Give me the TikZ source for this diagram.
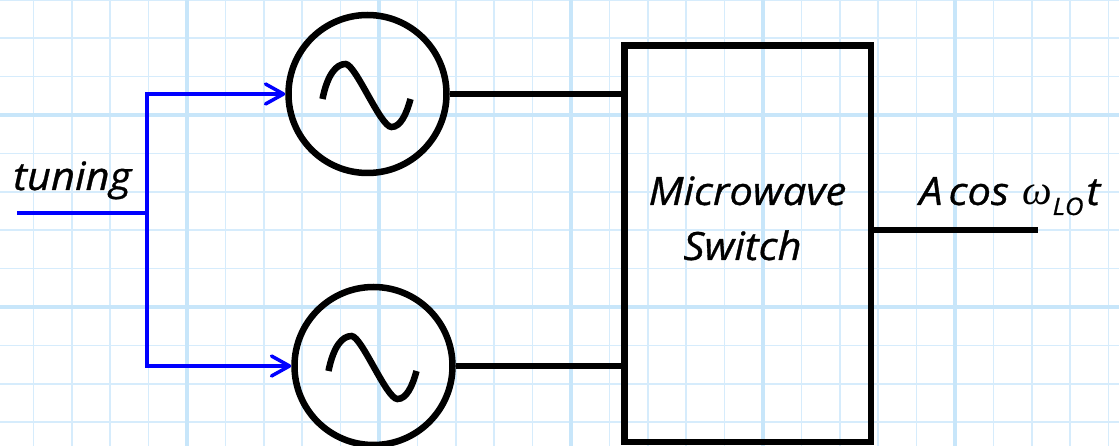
\documentclass[tikz,border=0pt]{standalone}
\usepackage{fontspec}
\setmainfont[FakeStretch=1.07,FakeBold=0.8]{Open Sans}
\newfontfamily\greekfont{Liberation Serif}
\usetikzlibrary{arrows.meta,calc}
\definecolor{gridthin}{RGB}{214,236,252}
\definecolor{gridthick}{RGB}{200,230,250}
\definecolor{ctrlblue}{RGB}{0,0,255}
\begin{document}
\begin{tikzpicture}[x=1pt,y=-1pt,
  gthin/.style={line width=1.6pt, gridthin},
  gthick/.style={line width=3.6pt, gridthick},
  wire/.style={line width=6.5pt, black},
  ctrl/.style={line width=3.5pt, ctrlblue},
  osc/.style={circle, draw, line width=6.5pt, minimum size=158pt, inner sep=0pt},
  switchbox/.style={rectangle, draw, line width=6.5pt, minimum width=246.5pt, minimum height=396.5pt, inner sep=0pt},
  lbl/.style={font=\fontsize{39}{55}\selectfont\itshape, inner sep=0pt},
  sine/.style={line width=6.5pt},
  tip/.style={-{Straight Barb[length=18pt,width=20pt,round]}}
]
\fill[white] (0,0) rectangle (1119,446);
\useasboundingbox (0,0) rectangle (1119,446);
% grid
\foreach \k in {0,...,28} \draw[gthin] ({33.4+38.4*\k},0) -- ++(0,446);
\foreach \k in {0,...,11} \draw[gthin] (0,{-0.2+38.4*\k}) -- ++(1119,0);
\foreach \k in {0,...,5} \draw[gthick] ({-5+192*\k},0) -- ++(0,446);
\foreach \k in {0,1} \draw[gthick] (0,{115+192*\k}) -- ++(1119,0);
% oscillators
\node[osc] (osc1) at (367.5,94) {};
\node[osc] (osc2) at (373.5,366) {};
\foreach \o in {osc1,osc2}{
  \begin{scope}[shift={(\o.center)}]
    \draw[sine] (-45,5) .. controls (-40,-20) and (-31,-30) .. (-22,-30)
       .. controls (-12,-30) and (13,33) .. (24,33)
       .. controls (33,33) and (39,20) .. (43,5);
  \end{scope}
}
% switch
\node[switchbox] (sw) at (747.75,243.75) {};
\node[lbl, anchor=base] (swl1) at (747.5,205) {Microwave};
\node[lbl, anchor=base] (swl2) at (742.5,260) {Switch};
% wires
\draw[wire] (osc1.east) -- (osc1.east -| sw.west);
\draw[wire] (osc2.east) -- (osc2.east -| sw.west);
\coordinate (out) at (1038,230);
\draw[wire] (sw.east |- out) -- (out);
\node[lbl, anchor=base west] (outlbl) at (919,205) {A\hspace{6pt}cos\hspace{14pt}{\greekfont\itshape\fontsize{42}{42}\selectfont ω}\raisebox{-10pt}{\fontsize{24}{24}\selectfont LO}\hspace{3pt}t};
% tuning
\coordinate (tin) at (17,213);
\coordinate (split) at (147,213);
\node[lbl, anchor=base west] (tunl) at (13,190) {tuning};
\draw[ctrl] (tin) -- (split);
\draw[ctrl,tip] (split) |- (osc1.west);
\draw[ctrl,tip] (split) |- (osc2.west);
\end{tikzpicture}
\end{document}
